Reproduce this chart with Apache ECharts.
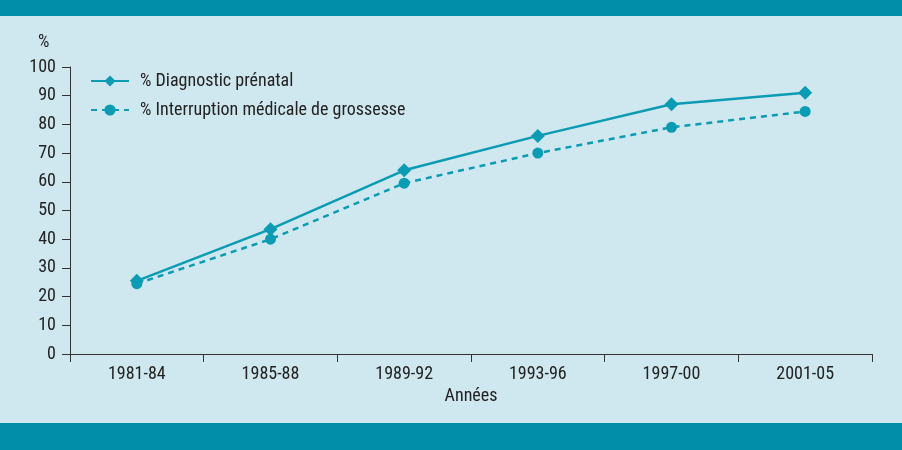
<!DOCTYPE html>
<html><head><meta charset="utf-8">
<script src="https://cdn.jsdelivr.net/npm/echarts@6/dist/echarts.min.js"></script>
<style>html,body{margin:0;padding:0;background:#cfe7ee}#c{width:902px;height:450px}</style>
</head><body><div id="c"></div>
<script>
const categories = ['1981-84','1985-88','1989-92','1993-96','1997-00','2001-05'];
const diagnosticPrenatal = [25.5, 43.5, 64, 76, 87, 91];
const interruptionMedicale = [24.5, 40, 59.5, 70, 79, 84.5];
const yTicks = [0,10,20,30,40,50,60,70,80,90,100];
const seriesNames = ['% Diagnostic prénatal', '% Interruption médicale de grossesse'];

const FONT = "'Liberation Sans Narrow','Roboto Condensed','Liberation Sans',sans-serif";
const FS = 18;
const TEAL = '#0b9bb3';
const chart = echarts.init(document.getElementById('c'), null, {renderer:'canvas'});
chart.setOption({
  backgroundColor: '#cfe7ee',
  animation: false,
  textStyle: {fontFamily: FONT},
  graphic: [
    {type:'rect', shape:{x:0,y:0,width:902,height:16}, style:{fill:'#018ea9'}, z:-1},
    {type:'rect', shape:{x:0,y:423,width:902,height:27}, style:{fill:'#018ea9'}, z:-1},
    {type:'text', left:38, top:33, style:{text:'%', font:FS + "px " + FONT, fill:'#222'}}
  ],
  grid: {left:70, right:30, top:67, bottom:96, containLabel:false},
  legend: {
    left: 85, top: 67, orient: 'vertical', itemGap: 11,
    itemWidth: 38, itemHeight: 14,
    textStyle: {fontSize: FS, color: '#222', fontFamily: FONT, padding:[0,0,0,6]},
    data: seriesNames
  },
  xAxis: {
    type: 'category', data: categories, boundaryGap: true, name: 'Années',
    nameLocation: 'middle', nameGap: 33,
    nameTextStyle: {fontSize: FS, color:'#222', fontFamily: FONT},
    axisLine: {lineStyle:{color:'#333', width:1}},
    axisTick: {show:true, length:8, inside:false, lineStyle:{color:'#333'}},
    axisLabel: {fontSize: FS, color:'#222', margin: 11, fontFamily: FONT}
  },
  yAxis: {
    type: 'value', min: 0, max: 100, interval: 10,
    axisLine: {show:true, lineStyle:{color:'#333', width:1}},
    axisTick: {show:true, length:8, lineStyle:{color:'#333'}},
    splitLine: {show:false},
    axisLabel: {fontSize: FS, color:'#222', margin: 14, fontFamily: FONT,
      formatter: v => yTicks.includes(v) ? String(v) : ''}
  },
  series: [
    {name: seriesNames[0], type:'line', data: diagnosticPrenatal,
     symbol:'diamond', symbolSize:14, color: TEAL,
     lineStyle:{width:2.5, color:TEAL}, itemStyle:{color:TEAL}},
    {name: seriesNames[1], type:'line', data: interruptionMedicale,
     symbol:'circle', symbolSize:11, color: TEAL,
     lineStyle:{width:2.5, color:TEAL, type:[6,5]}, itemStyle:{color:TEAL}}
  ]
});
</script></body></html>
